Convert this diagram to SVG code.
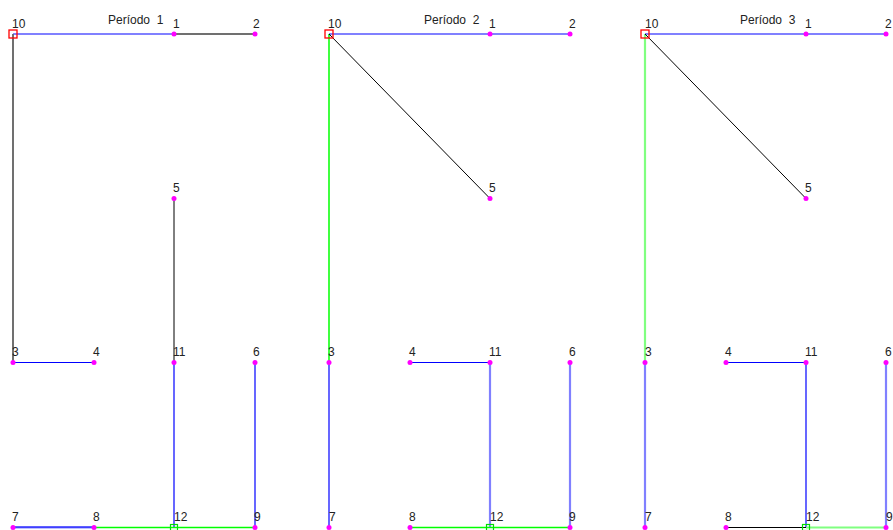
<svg xmlns="http://www.w3.org/2000/svg" width="893" height="530" viewBox="0 0 893 530">
<style>
text{font-family:"Liberation Sans",Arial,sans-serif;font-size:12px;fill:#222;white-space:pre}
.dot{fill:#ff00ff}
.b{stroke:#0000ff;stroke-width:1.2;fill:none}
.lb{stroke:#8080ff;stroke-width:2.2;fill:none}
.k{stroke:#000;stroke-width:1;fill:none}
.gr{stroke:#707070;stroke-width:2;fill:none}
.g{stroke:#00ff00;stroke-width:1.5;fill:none}
.lg{stroke:#80ff80;stroke-width:2.2;fill:none}
.red{stroke:#ff0000;stroke-width:1.3;fill:none}
.sup{stroke:#00dd00;stroke-width:1.2;fill:none}
</style>
<rect width="893" height="530" fill="#fff"/>
<g id="titles">
<text x="108" y="24">Período  1</text>
<text x="424" y="24">Período  2</text>
<text x="740" y="24">Período  3</text>
</g>
<g id="connectors">
<!-- Panel 1 -->
<line class="lb" x1="13" y1="34" x2="174" y2="34"/>
<line class="gr" x1="174" y1="34" x2="255" y2="34"/>
<line class="gr" x1="13" y1="34" x2="13" y2="362.5"/>
<line class="k" x1="174" y1="198.5" x2="174" y2="362.5"/>
<line class="b" x1="13" y1="362.5" x2="94" y2="362.5"/>
<line class="b" x1="174" y1="362.5" x2="174" y2="527.5"/>
<line class="b" x1="255" y1="362.5" x2="255" y2="527.5"/>
<line class="lb" x1="13" y1="527.5" x2="94" y2="527.5"/>
<line class="b" x1="13" y1="527" x2="94" y2="527"/>
<line class="g" x1="94" y1="527.5" x2="255" y2="527.5"/>
<!-- Panel 2 -->
<line class="lb" x1="329" y1="34" x2="570" y2="34"/>
<line class="g" x1="329" y1="34" x2="329" y2="362.5"/>
<line class="k" x1="329" y1="34" x2="490" y2="198.5"/>
<line class="b" x1="329" y1="362.5" x2="329" y2="527.5"/>
<line class="b" x1="410" y1="362.5" x2="490" y2="362.5"/>
<line class="lb" x1="490" y1="362.5" x2="490" y2="527.5"/>
<line class="lb" x1="570" y1="362.5" x2="570" y2="527.5"/>
<line class="g" x1="410" y1="527.5" x2="570" y2="527.5"/>
<!-- Panel 3 -->
<line class="lb" x1="645" y1="34" x2="886" y2="34"/>
<line class="lg" x1="645" y1="34" x2="645" y2="362.5"/>
<line class="k" x1="645" y1="34" x2="806" y2="198.5"/>
<line class="lb" x1="645" y1="362.5" x2="645" y2="527.5"/>
<line class="b" x1="726" y1="362.5" x2="806" y2="362.5"/>
<line class="b" x1="806" y1="362.5" x2="806" y2="527.5"/>
<line class="lb" x1="886" y1="362.5" x2="886" y2="527.5"/>
<line class="k" x1="726" y1="527.5" x2="806" y2="527.5" stroke-width="1.5" stroke="#333"/>
<line class="lg" x1="806" y1="527.5" x2="886" y2="527.5"/>
</g>
<!-- Panel 1 nodes -->
<g id="p1-n10"><rect class="red" x="9" y="30" width="8" height="8"/><text x="12" y="28">10</text></g>
<g id="p1-n1"><circle class="dot" cx="174" cy="34" r="2.5"/><text x="173" y="28">1</text></g>
<g id="p1-n2"><circle class="dot" cx="255" cy="34" r="2.5"/><text x="253" y="28">2</text></g>
<g id="p1-n5"><circle class="dot" cx="174" cy="198.5" r="2.5"/><text x="173" y="192">5</text></g>
<g id="p1-n3"><circle class="dot" cx="13" cy="362.5" r="2.5"/><text x="12" y="356">3</text></g>
<g id="p1-n4"><circle class="dot" cx="94" cy="362.5" r="2.5"/><text x="93" y="356">4</text></g>
<g id="p1-n11"><circle class="dot" cx="174" cy="362.5" r="2.5"/><text x="173" y="356">11</text></g>
<g id="p1-n6"><circle class="dot" cx="255" cy="362.5" r="2.5"/><text x="253" y="356">6</text></g>
<g id="p1-n7"><circle class="dot" cx="13" cy="527.5" r="2.5"/><text x="12" y="521">7</text></g>
<g id="p1-n8"><circle class="dot" cx="94" cy="527.5" r="2.5"/><text x="93" y="521">8</text></g>
<g id="p1-n12"><rect class="sup" x="170.5" y="524.5" width="7" height="6"/><text x="174" y="521">12</text></g>
<g id="p1-n9"><circle class="dot" cx="255" cy="527.5" r="2.5"/><text x="254" y="521">9</text></g>
<!-- Panel 2 nodes -->
<g id="p2-n10"><rect class="red" x="325" y="30" width="8" height="8"/><text x="328" y="28">10</text></g>
<g id="p2-n1"><circle class="dot" cx="490" cy="34" r="2.5"/><text x="489" y="28">1</text></g>
<g id="p2-n2"><circle class="dot" cx="570" cy="34" r="2.5"/><text x="569" y="28">2</text></g>
<g id="p2-n5"><circle class="dot" cx="490" cy="198.5" r="2.5"/><text x="489" y="192">5</text></g>
<g id="p2-n3"><circle class="dot" cx="329" cy="362.5" r="2.5"/><text x="328" y="356">3</text></g>
<g id="p2-n4"><circle class="dot" cx="410" cy="362.5" r="2.5"/><text x="409" y="356">4</text></g>
<g id="p2-n11"><circle class="dot" cx="490" cy="362.5" r="2.5"/><text x="489" y="356">11</text></g>
<g id="p2-n6"><circle class="dot" cx="570" cy="362.5" r="2.5"/><text x="569" y="356">6</text></g>
<g id="p2-n7"><circle class="dot" cx="329" cy="527.5" r="2.5"/><text x="329" y="521">7</text></g>
<g id="p2-n8"><circle class="dot" cx="410" cy="527.5" r="2.5"/><text x="409" y="521">8</text></g>
<g id="p2-n12"><rect class="sup" x="486.5" y="524.5" width="7" height="6"/><text x="490" y="521">12</text></g>
<g id="p2-n9"><circle class="dot" cx="570" cy="527.5" r="2.5"/><text x="569" y="521">9</text></g>
<!-- Panel 3 nodes -->
<g id="p3-n10"><rect class="red" x="641" y="30" width="8" height="8"/><text x="645" y="28">10</text></g>
<g id="p3-n1"><circle class="dot" cx="806" cy="34" r="2.5"/><text x="805" y="28">1</text></g>
<g id="p3-n2"><circle class="dot" cx="886" cy="34" r="2.5"/><text x="885" y="28">2</text></g>
<g id="p3-n5"><circle class="dot" cx="806" cy="198.5" r="2.5"/><text x="805" y="192">5</text></g>
<g id="p3-n3"><circle class="dot" cx="645" cy="362.5" r="2.5"/><text x="645" y="356">3</text></g>
<g id="p3-n4"><circle class="dot" cx="726" cy="362.5" r="2.5"/><text x="725" y="356">4</text></g>
<g id="p3-n11"><circle class="dot" cx="806" cy="362.5" r="2.5"/><text x="805" y="356">11</text></g>
<g id="p3-n6"><circle class="dot" cx="886" cy="362.5" r="2.5"/><text x="885" y="356">6</text></g>
<g id="p3-n7"><circle class="dot" cx="645" cy="527.5" r="2.5"/><text x="645" y="521">7</text></g>
<g id="p3-n8"><circle class="dot" cx="726" cy="527.5" r="2.5"/><text x="725" y="521">8</text></g>
<g id="p3-n12"><rect class="sup" x="802.5" y="524.5" width="7" height="6"/><text x="806" y="521">12</text></g>
<g id="p3-n9"><circle class="dot" cx="886" cy="527.5" r="2.5"/><text x="886" y="521">9</text></g>
</svg>
